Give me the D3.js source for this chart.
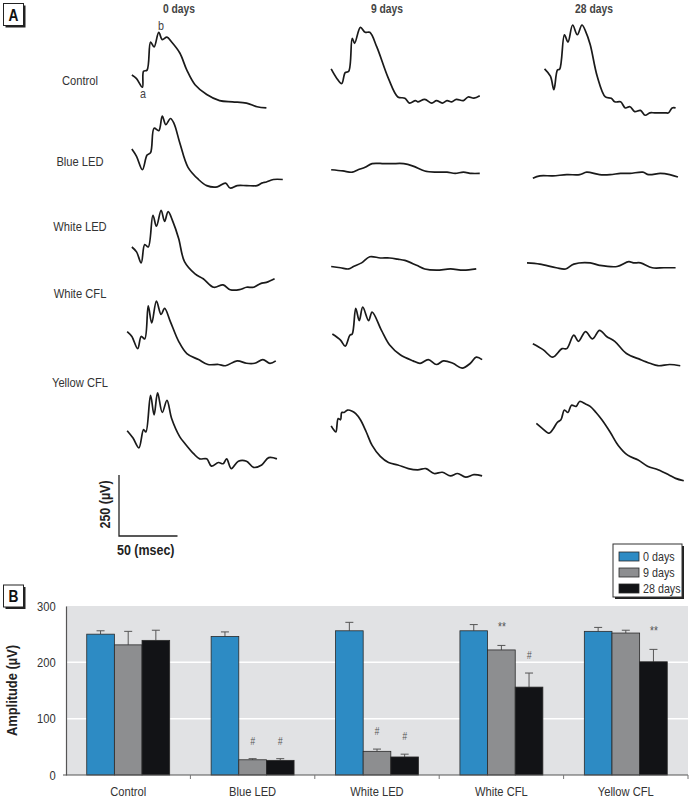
<!DOCTYPE html>
<html><head><meta charset="utf-8">
<script src="https://cdn.jsdelivr.net/npm/d3@7/dist/d3.min.js"></script>
<style>
html,body{margin:0;padding:0;background:#fff;}
svg{display:block;font-family:'Liberation Sans',Arial,sans-serif;}
</style></head>
<body><svg id="chart" width="691" height="800"></svg>
<script>
// ---------------- DATA ----------------
const conditions = ["Control", "Blue LED", "White LED", "White CFL", "Yellow CFL"];
const timepoints = ["0 days", "9 days", "28 days"];

// ERG traces: [time (msec), amplitude (µV)] relative to each panel's origin
const traceControl0 = [[5,0],[9,-15],[14,-50],[15,15],[18,20],[21,135],[24,115],[28,175],[31,145],[35,155],[39,135],[46,90],[52,20],[59,-40],[69,-80],[80,-105],[91,-110],[103,-115],[112,-130],[120,-135]];
const traceControl9 = [[1,25],[6,-15],[10,-35],[13,10],[16,15],[19,150],[21,130],[26,195],[30,175],[34,175],[40,115],[50,-15],[58,-90],[64,-95],[68,-115],[73,-105],[75,-110],[81,-100],[87,-115],[91,-105],[96,-115],[100,-105],[104,-110],[108,-100],[114,-105],[118,-90],[123,-95],[128,-85]];
const traceControl28 = [[15,25],[20,-5],[23,-60],[26,20],[28,25],[32,165],[35,135],[39,205],[43,165],[47,205],[50,180],[54,125],[60,-5],[67,-90],[72,-95],[75,-110],[80,-110],[84,-135],[88,-130],[92,-150],[97,-145],[101,-165],[105,-155],[109,-155],[114,-155],[118,-155],[121,-155],[124,-135],[127,-135]];
const traceBlue0 = [[5,0],[9,-30],[14,-85],[18,-25],[21,-15],[24,85],[28,75],[31,135],[34,100],[38,125],[41,105],[46,25],[53,-75],[62,-125],[69,-150],[78,-155],[85,-140],[89,-160],[95,-150],[103,-150],[112,-150],[116,-140],[120,-135],[126,-125],[134,-125]];
const traceBlue9 = [[1,-85],[11,-90],[19,-95],[24,-85],[30,-75],[36,-60],[46,-60],[53,-60],[63,-60],[71,-70],[81,-90],[91,-95],[100,-95],[107,-100],[114,-95],[121,-100],[128,-100]];
const traceBlue28 = [[5,-120],[11,-110],[22,-110],[34,-105],[45,-105],[51,-95],[62,-105],[71,-105],[80,-100],[88,-100],[99,-95],[104,-105],[114,-100],[122,-105],[129,-115]];
const traceWhiteLED0 = [[5,0],[9,-20],[13,-65],[16,10],[19,0],[23,130],[26,85],[30,150],[33,105],[36,145],[40,105],[45,35],[50,-60],[59,-110],[66,-130],[75,-165],[83,-155],[89,-175],[97,-175],[103,-165],[109,-165],[115,-150],[120,-145],[127,-130]];
const traceWhiteLED9 = [[1,-80],[9,-85],[16,-90],[20,-80],[27,-65],[34,-40],[43,-45],[51,-45],[58,-50],[64,-55],[74,-75],[81,-90],[91,-95],[103,-90],[114,-95],[125,-90]];
const traceWhiteLED28 = [[0,-65],[11,-70],[25,-85],[33,-90],[40,-70],[54,-65],[62,-75],[77,-80],[87,-60],[91,-65],[97,-65],[107,-85],[117,-85],[127,-85]];
const traceWhiteCFL0 = [[1,10],[5,-10],[10,-60],[13,-10],[16,-20],[19,115],[22,45],[26,135],[30,80],[33,105],[38,50],[45,-30],[52,-80],[62,-105],[70,-125],[79,-125],[85,-130],[95,-110],[103,-120],[110,-120],[117,-105],[123,-120],[128,-110]];
const traceWhiteCFL9 = [[2,0],[9,-25],[13,-50],[17,-5],[19,0],[22,105],[25,55],[28,110],[33,55],[36,90],[44,15],[51,-45],[60,-85],[71,-110],[77,-120],[84,-105],[91,-125],[97,-110],[105,-120],[113,-140],[120,-120],[125,-95],[130,-105]];
const traceWhiteCFL28 = [[5,-40],[14,-65],[22,-95],[30,-60],[34,-60],[40,-5],[44,-30],[50,10],[56,-20],[62,15],[68,-10],[75,-30],[85,-80],[97,-105],[105,-120],[112,-130],[122,-125],[131,-130]];
const traceYellowCFL0 = [[1,5],[6,-25],[11,-65],[15,10],[17,0],[21,150],[24,70],[27,160],[31,80],[35,130],[39,55],[46,-20],[50,-45],[58,-90],[63,-110],[69,-110],[73,-140],[79,-125],[83,-130],[86,-110],[90,-150],[96,-120],[103,-120],[109,-145],[116,-135],[122,-105],[129,-110]];
const traceYellowCFL9 = [[1,25],[3,10],[5,0],[7,55],[9,50],[10,80],[12,80],[15,90],[19,85],[22,75],[26,50],[31,0],[36,-55],[43,-100],[50,-125],[58,-135],[67,-150],[75,-155],[82,-150],[89,-170],[96,-165],[103,-180],[109,-170],[116,-185],[123,-175],[130,-180]];
const traceYellowCFL28 = [[8,35],[13,15],[19,-5],[22,10],[26,40],[29,50],[32,90],[35,80],[38,110],[42,105],[45,125],[50,115],[54,105],[59,80],[64,50],[71,0],[78,-55],[86,-95],[95,-115],[103,-140],[112,-155],[121,-175],[127,-190],[134,-200]];

const traceGrid = [
  [traceControl0, traceControl9, traceControl28],
  [traceBlue0, traceBlue9, traceBlue28],
  [traceWhiteLED0, traceWhiteLED9, traceWhiteLED28],
  [traceWhiteCFL0, traceWhiteCFL9, traceWhiteCFL28],
  [traceYellowCFL0, traceYellowCFL9, traceYellowCFL28]
];
const scaleBarTime = 50;   // msec
const scaleBarAmp = 250;   // µV

// Panel B: b-wave amplitude (µV), mean and error
const barCategories = ["Control", "Blue LED", "White LED", "White CFL", "Yellow CFL"];
const seriesNames = ["0 days", "9 days", "28 days"];
const amp0 = [250, 246, 256, 256, 255];
const amp9 = [231, 27, 42, 222, 252];
const amp28 = [239, 26, 32, 156, 201];
const err0 = [6, 8, 15, 11, 7];
const err9 = [24, 2, 4, 8, 5];
const err28 = [18, 3, 5, 25, 22];
const yTicks = [0, 100, 200, 300];
const annotations = [
  {cat: "Blue LED", series: "9 days", mark: "#"},
  {cat: "Blue LED", series: "28 days", mark: "#"},
  {cat: "White LED", series: "9 days", mark: "#"},
  {cat: "White LED", series: "28 days", mark: "#"},
  {cat: "White CFL", series: "9 days", mark: "**"},
  {cat: "White CFL", series: "28 days", mark: "#"},
  {cat: "Yellow CFL", series: "28 days", mark: "**"}
];
const seriesColors = ["#2d8bc4", "#8d8e90", "#121316"];

// ---------------- DRAW ----------------
const svg = d3.select("#chart");
const textCol = "#333";
const NX = 0.86; // horizontal condensing of glyphs (condensed typeface look)

function ntext(parent, x, y, str, size, opts = {}) {
  const t = parent.append("text")
    .attr("transform", `translate(${x},${y})${opts.rotate ? " rotate(" + opts.rotate + ")" : ""} scale(${NX},1)`)
    .attr("text-anchor", opts.anchor || "start")
    .attr("font-size", size)
    .attr("fill", opts.fill || textCol)
    .text(str);
  if (opts.bold) t.attr("font-weight", "bold");
  if (opts.italic) t.attr("font-style", "italic");
  return t;
}

function panelLetter(x, y, letter) {
  svg.append("rect").attr("x", x + 2).attr("y", y + 2).attr("width", 20).attr("height", 22).attr("fill", "#222");
  svg.append("rect").attr("x", x).attr("y", y).attr("width", 20).attr("height", 22).attr("fill", "#fff").attr("stroke", "#222").attr("stroke-width", 1);
  ntext(svg, x + 10, y + 17, letter, 16, {anchor: "middle", bold: true, fill: "#111"});
}

// ---- Panel A ----
panelLetter(3.5, 3.5, "A");
const colX = [126, 330, 527];
const rowY = [75, 149, 247, 334, 432];
const colTitleX = [179, 387, 594];
const tx = d3.scaleLinear().domain([0, 50]).range([0, 58.5]);
const ty = d3.scaleLinear().domain([0, 250]).range([0, -61]);

timepoints.forEach((d, i) => ntext(svg, colTitleX[i], 13, d, 12, {anchor: "middle", bold: true, fill: "#444"}));

const rowLabelY = [85, 166, 231, 298, 387];
conditions.forEach((d, i) => ntext(svg, 80, rowLabelY[i], d, 13, {anchor: "middle"}));

traceGrid.forEach((row, r) => {
  row.forEach((tr, c) => {
    const line = d3.line()
      .x(d => colX[c] + tx(d[0]))
      .y(d => rowY[r] + ty(d[1]))
      .curve(d3.curveCatmullRom.alpha(0.5));
    svg.append("path").attr("d", line(tr)).attr("fill", "none")
      .attr("stroke", "#1a1a1a").attr("stroke-width", 1.7).attr("stroke-linejoin", "round");
  });
});
// a / b wave labels
ntext(svg, 143, 98, "a", 12.5, {anchor: "middle", fill: "#444"});
ntext(svg, 161, 30, "b", 12.5, {anchor: "middle", fill: "#444"});

// scale bar
const sbX = 119, sbY = 536;
svg.append("path")
  .attr("d", `M${sbX},${sbY + ty(scaleBarAmp)}V${sbY}H${sbX + tx(scaleBarTime)}`)
  .attr("fill", "none").attr("stroke", "#222").attr("stroke-width", 1.3);
ntext(svg, sbX - 9, sbY + ty(scaleBarAmp) / 2 - 1, scaleBarAmp + " (µV)", 14.5, {anchor: "middle", bold: true, rotate: -90, fill: "#222"});
ntext(svg, sbX - 2, 555, scaleBarTime + " (msec)", 14.5, {bold: true, fill: "#222"});

// ---- Panel B ----
panelLetter(3.5, 585, "B");
const plotL = 66, plotR = 688, plotT = 606, plotB = 775;
const x = d3.scaleBand().domain(barCategories).range([plotL, plotR]);
const xs = d3.scaleBand().domain(seriesNames).range([0, x.bandwidth()]).paddingOuter(0.75);
const y = d3.scaleLinear().domain([0, 300]).range([plotB, plotT]);

svg.append("rect").attr("x", plotL).attr("y", y(300)).attr("width", plotR - plotL).attr("height", plotB - y(300)).attr("fill", "#e1e2e4");
svg.selectAll("line.grid").data(yTicks.filter(v => v > 0 && v < 300)).join("line").attr("class", "grid")
  .attr("x1", plotL).attr("x2", plotR).attr("y1", d => y(d)).attr("y2", d => y(d))
  .attr("stroke", "#fff").attr("stroke-width", 1.5);

const values = [amp0, amp9, amp28];
const errs = [err0, err9, err28];
const barData = [];
barCategories.forEach((cat, i) => seriesNames.forEach((s, j) => barData.push({cat, s, j, v: values[j][i], e: errs[j][i]})));

// error bars (upper only)
const eg = svg.append("g").attr("stroke", "#555").attr("stroke-width", 1);
barData.forEach(d => {
  const cx = x(d.cat) + xs(d.s) + xs.bandwidth() / 2;
  eg.append("line").attr("x1", cx).attr("x2", cx).attr("y1", y(d.v)).attr("y2", y(d.v + d.e));
  eg.append("line").attr("x1", cx - 4).attr("x2", cx + 4).attr("y1", y(d.v + d.e)).attr("y2", y(d.v + d.e));
});
svg.selectAll("rect.bar").data(barData).join("rect").attr("class", "bar")
  .attr("x", d => x(d.cat) + xs(d.s)).attr("width", xs.bandwidth())
  .attr("y", d => y(d.v)).attr("height", d => y(0) - y(d.v))
  .attr("fill", d => seriesColors[d.j]).attr("stroke", "#2a2a2a").attr("stroke-width", 0.8);

// annotations
annotations.forEach(a => {
  const d = barData.find(b => b.cat === a.cat && b.s === a.series);
  const cx = x(d.cat) + xs(d.s) + xs.bandwidth() / 2;
  ntext(svg, cx, y(d.v + d.e) - 14, a.mark, a.mark === "#" ? 10 : 12, {anchor: "middle", italic: true, fill: "#555"});
});

// axes
const yAxis = d3.axisLeft(y).tickValues(yTicks).tickSize(0).tickPadding(12);
const yg = svg.append("g").attr("transform", `translate(${plotL},0)`).call(yAxis);
yg.select(".domain").attr("stroke", "#555").attr("stroke-width", 1.2);
yg.selectAll("text").attr("font-size", 13).attr("fill", textCol).style("font-family", null)
  .attr("transform", `scale(${NX},1)`);

const xAxis = d3.axisBottom(x).tickSize(0).tickPadding(12);
const xg = svg.append("g").attr("transform", `translate(0,${plotB})`).call(xAxis);
xg.select(".domain").attr("stroke", "#555").attr("stroke-width", 1.2).attr("d", `M${plotL - 3},0H${plotR}`);
xg.selectAll("text").attr("font-size", 13).attr("fill", textCol).style("font-family", null)
  .attr("transform", `scale(${NX},1)`);
// boundary ticks between categories
const bounds = barCategories.map(c => x(c) + x.bandwidth());
svg.selectAll("line.bt").data(bounds).join("line").attr("class", "bt")
  .attr("x1", d => d).attr("x2", d => d).attr("y1", plotB).attr("y2", plotB + 4)
  .attr("stroke", "#777").attr("stroke-width", 1);

ntext(svg, 17, (plotT + plotB) / 2, "Amplitude (µV)", 15, {anchor: "middle", bold: true, rotate: -90, fill: "#222"});

// legend
const lg = svg.append("g").attr("transform", "translate(613,544)");
lg.append("rect").attr("x", 2).attr("y", 2).attr("width", 69).attr("height", 53).attr("fill", "#222");
lg.append("rect").attr("width", 69).attr("height", 53).attr("fill", "#fff").attr("stroke", "#333").attr("stroke-width", 1);
seriesNames.forEach((s, i) => {
  lg.append("rect").attr("x", 6).attr("y", 8 + i * 16).attr("width", 20).attr("height", 9)
    .attr("fill", seriesColors[i]).attr("stroke", "#2a2a2a").attr("stroke-width", 0.8);
  ntext(lg, 30, 17 + i * 16, s, 12.5);
});
</script></body></html>
